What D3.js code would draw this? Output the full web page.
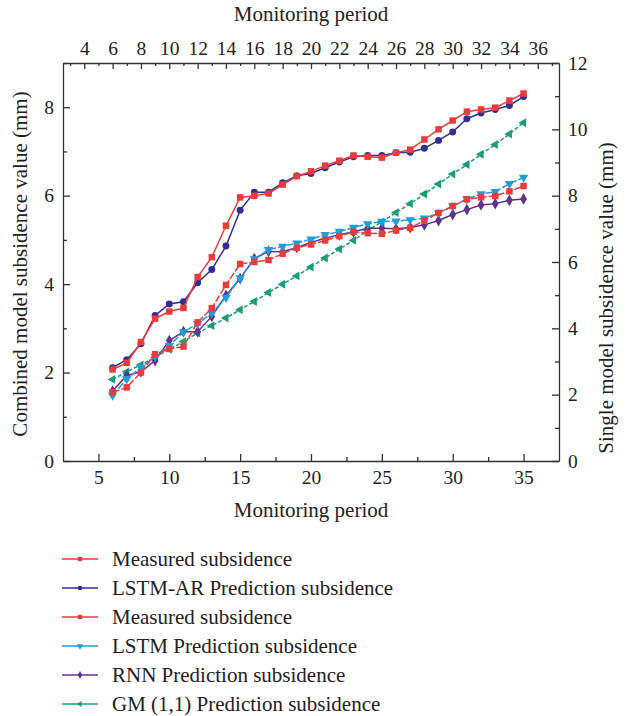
<!DOCTYPE html>
<html>
<head>
<meta charset="utf-8">
<script src="https://cdn.jsdelivr.net/npm/d3@7"></script>
<style>
    body { margin: 0; background: #fff; }
    svg text { font-family: "Liberation Serif", "DejaVu Serif", serif; fill: #222; }
    .axis path, .axis line { stroke: #333; stroke-width: 1.3px; }
</style>
</head>
<body>
<script>
(function(){
    // data
    var period = [6, 7, 8, 9, 10, 11, 12, 13, 14, 15, 16, 17, 18, 19, 20,
                  21, 22, 23, 24, 25, 26, 27, 28, 29, 30, 31, 32, 33, 34, 35];

    // combined models (left axis)
    var combinedMeasured = [2.07, 2.22, 2.69, 3.22, 3.38, 3.46, 4.16, 4.61, 5.32, 5.96, 6.00, 6.05, 6.25, 6.44, 6.55,
                            6.68, 6.79, 6.91, 6.88, 6.86, 6.97, 7.04, 7.27, 7.50, 7.70, 7.90, 7.95, 7.99, 8.15, 8.31];
    var lstmAr = [2.11, 2.29, 2.65, 3.29, 3.55, 3.60, 4.03, 4.33, 4.86, 5.67, 6.08, 6.08, 6.29, 6.45, 6.50,
                  6.63, 6.76, 6.88, 6.91, 6.91, 6.97, 6.98, 7.07, 7.25, 7.44, 7.74, 7.87, 7.95, 8.04, 8.24];

    // single models (right axis)
    var singleMeasured = [2.07, 2.22, 2.67, 3.22, 3.38, 3.45, 4.18, 4.61, 5.31, 5.94, 6.00, 6.06, 6.25, 6.43, 6.53,
                          6.65, 6.78, 6.91, 6.87, 6.85, 6.95, 7.03, 7.25, 7.48, 7.69, 7.89, 7.95, 7.99, 8.13, 8.29];
    var lstm = [1.98, 2.47, 2.82, 3.15, 3.48, 3.89, 4.14, 4.46, 4.93, 5.52, 6.09, 6.37, 6.47, 6.57, 6.69,
                6.82, 6.92, 7.04, 7.15, 7.22, 7.23, 7.27, 7.32, 7.48, 7.68, 7.90, 8.05, 8.12, 8.36, 8.55];
    var rnn = [2.11, 2.58, 2.69, 3.03, 3.63, 3.90, 3.90, 4.36, 4.99, 5.50, 6.10, 6.32, 6.31, 6.44, 6.59,
               6.72, 6.82, 6.91, 7.02, 7.02, 7.00, 7.04, 7.12, 7.25, 7.43, 7.58, 7.72, 7.76, 7.86, 7.90];
    var gm = [2.46, 2.69, 2.90, 3.13, 3.37, 3.60, 3.86, 4.08, 4.31, 4.56, 4.81, 5.08, 5.33, 5.58, 5.85,
              6.12, 6.39, 6.65, 6.95, 7.21, 7.49, 7.76, 8.05, 8.35, 8.65, 8.94, 9.25, 9.54, 9.86, 10.20];

    var bottomTicks = [5, 10, 15, 20, 25, 30, 35];
    var topTicks = [4, 6, 8, 10, 12, 14, 16, 18, 20, 22, 24, 26, 28, 30, 32, 34, 36];
    var leftTicks = [0, 2, 4, 6, 8];
    var rightTicks = [0, 2, 4, 6, 8, 10, 12];

    var legendLabels = ["Measured subsidence", "LSTM-AR Prediction subsidence", "Measured subsidence",
                        "LSTM Prediction subsidence", "RNN Prediction subsidence", "GM (1,1) Prediction subsidence"];

    var left = 63, right = 559, top = 63, bottom = 461;
    var tickFont = 19.5, titleFont = 21;

    var svg = d3.select("body").append("svg")
        .attr("width", 634)
        .attr("height", 716);

    var x = d3.scaleLinear().domain([2.5, 37.5]).range([left, right]);
    var yL = d3.scaleLinear().domain([0, 9]).range([bottom, top]);
    var yR = d3.scaleLinear().domain([0, 12]).range([bottom, top]);

    // axes, ticks pointing inward
    function drawAxis(axis, tx, ty){
        var g = svg.append("g")
            .attr("class", "axis")
            .attr("transform", "translate(" + tx + "," + ty + ")")
            .call(axis);
        g.selectAll("text").style("font-size", tickFont + "px");
        return g;
    }

    drawAxis(d3.axisBottom(x).tickValues(bottomTicks).tickSizeInner(-7).tickSizeOuter(0).tickPadding(9), 0, bottom);
    drawAxis(d3.axisBottom(x).tickValues([7.5, 12.5, 17.5, 22.5, 27.5, 32.5]).tickSizeInner(-4).tickSizeOuter(0).tickFormat(""), 0, bottom)
        .select(".domain").remove();

    drawAxis(d3.axisTop(x).tickValues(topTicks).tickSizeInner(-6).tickSizeOuter(0).tickPadding(8), 0, top);
    drawAxis(d3.axisTop(x).tickValues([3, 5, 7, 9, 11, 13, 15, 17, 19, 21, 23, 25, 27, 29, 31, 33, 35, 37]).tickSizeInner(-3).tickSizeOuter(0).tickFormat(""), 0, top)
        .select(".domain").remove();

    drawAxis(d3.axisLeft(yL).tickValues(leftTicks).tickSizeInner(-7).tickSizeOuter(0).tickPadding(9), left, 0);
    drawAxis(d3.axisLeft(yL).tickValues([1, 3, 5, 7, 9]).tickSizeInner(-4).tickSizeOuter(0).tickFormat(""), left, 0)
        .select(".domain").remove();

    drawAxis(d3.axisRight(yR).tickValues(rightTicks).tickSizeInner(-7).tickSizeOuter(0).tickPadding(9), right, 0);
    drawAxis(d3.axisRight(yR).tickValues([1, 3, 5, 7, 9, 11]).tickSizeInner(-4).tickSizeOuter(0).tickFormat(""), right, 0)
        .select(".domain").remove();

    // axis titles
    svg.append("text")
        .attr("x", (left + right) / 2)
        .attr("y", 517)
        .attr("text-anchor", "middle")
        .style("font-size", titleFont + "px")
        .text("Monitoring period");
    svg.append("text")
        .attr("x", (left + right) / 2)
        .attr("y", 21)
        .attr("text-anchor", "middle")
        .style("font-size", titleFont + "px")
        .text("Monitoring period");
    svg.append("text")
        .attr("transform", "translate(27," + ((top + bottom) / 2 + 2) + ") rotate(-90)")
        .attr("text-anchor", "middle")
        .style("font-size", titleFont + "px")
        .text("Combined model subsidence value (mm)");
    svg.append("text")
        .attr("transform", "translate(613," + ((top + bottom) / 2 + 36) + ") rotate(-90)")
        .attr("text-anchor", "middle")
        .style("font-size", titleFont + "px")
        .text("Single model subsidence value (mm)");

    var series = [
        { values: combinedMeasured, y: yL, color: "#ee3a3a", dash: null, symbol: d3.symbolSquare, size: 42, rot: 0 },
        { values: lstmAr, y: yL, color: "#2e3192", dash: null, symbol: d3.symbolCircle, size: 38, rot: 0 },
        { values: singleMeasured, y: yR, color: "#ee3a3a", dash: "7,2", symbol: d3.symbolSquare, size: 42, rot: 0 },
        { values: lstm, y: yR, color: "#1e9fdb", dash: "7,2", symbol: d3.symbolTriangle, size: 38, rot: 180 },
        { values: rnn, y: yR, color: "#65318e", dash: null, symbol: d3.symbolDiamond, size: 40, rot: 0 },
        { values: gm, y: yR, color: "#1b9e77", dash: "4,2", symbol: d3.symbolTriangle, size: 34, rot: -90 }
    ];

    // draw in reverse so the combined series sit on top
    series.slice().reverse().forEach(function(s){
        var pts = period.map(function(p, i){ return [x(p), s.y(s.values[i])]; });

        svg.append("path")
            .datum(pts)
            .attr("fill", "none")
            .attr("stroke", s.color)
            .attr("stroke-width", 1.5)
            .attr("stroke-dasharray", s.dash)
            .attr("d", d3.line());

        svg.selectAll(null)
            .data(pts)
            .enter()
            .append("path")
            .attr("d", d3.symbol().type(s.symbol).size(s.size))
            .attr("transform", function(d){
                return "translate(" + d[0] + "," + d[1] + ") rotate(" + s.rot + ")";
            })
            .attr("fill", s.color);
    });

    // legend
    var legend = svg.selectAll(".legend")
        .data(series)
        .enter()
        .append("g")
        .attr("class", "legend")
        .attr("transform", function(d, i){
            return "translate(62," + (559 + i * 29) + ")";
        });

    legend.append("line")
        .attr("x1", 0)
        .attr("x2", 36)
        .attr("stroke", function(d){ return d.color; })
        .attr("stroke-width", 1.4);

    legend.append("path")
        .attr("d", function(d){ return d3.symbol().type(d.symbol).size(d.size * 0.45)(); })
        .attr("transform", function(d){ return "translate(18,0) rotate(" + d.rot + ")"; })
        .attr("fill", function(d){ return d.color; });

    legend.append("text")
        .attr("x", 50)
        .attr("dy", "0.33em")
        .style("font-size", titleFont + "px")
        .text(function(d, i){ return legendLabels[i]; });
})();
</script>
</body>
</html>
